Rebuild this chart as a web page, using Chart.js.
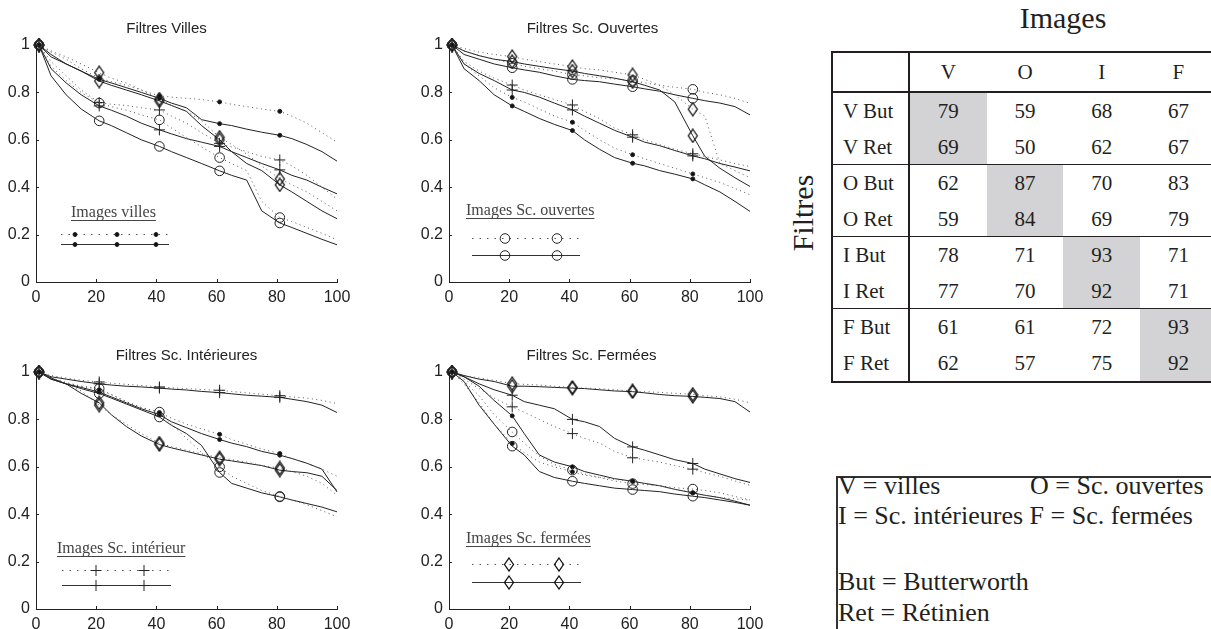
<!DOCTYPE html>
<html>
<head>
<meta charset="utf-8">
<script src="https://cdn.jsdelivr.net/npm/chart.js@4.4.1/dist/chart.umd.min.js"></script>
<style>
  html, body { margin: 0; padding: 0; background: #fff; }
  body {
    width: 1211px; height: 629px; position: relative; overflow: hidden;
    font-family: "Liberation Serif", "Times New Roman", serif; color: #231f20;
  }
  .panel { position: absolute; width: 370px; height: 315px; }
  .txt { position: absolute; white-space: nowrap; }
  .ln { position: absolute; background: #231f20; }
  .gray { position: absolute; background: #d3d3d5; }
</style>
</head>
<body>
<div class="panel" style="left:0;top:0"><canvas id="c0" width="370" height="315"></canvas></div>
<div class="panel" style="left:413px;top:0"><canvas id="c1" width="370" height="315"></canvas></div>
<div class="panel" style="left:0;top:327px"><canvas id="c2" width="370" height="315"></canvas></div>
<div class="panel" style="left:413px;top:327px"><canvas id="c3" width="370" height="315"></canvas></div>

<script>
/* ===== données ===== */
// abscisses communes (%), marqueurs tous les 20 à partir de 1
const xs = [1, 5, 10, 15, 21, 25, 30, 35, 41, 45, 50, 55, 61, 65, 70, 75, 81, 85, 90, 95, 100];
const markerXs = [1, 21, 41, 61, 81];
const xTickLabels = ['0', '20', '40', '60', '80', '100'];
const yTickLabels = ['0', '0.2', '0.4', '0.6', '0.8', '1'];

// Filtres Villes
const fvVillesBut    = [1,0.97,0.94,0.90,0.86,0.845,0.83,0.81,0.785,0.78,0.775,0.77,0.76,0.75,0.74,0.73,0.72,0.70,0.67,0.63,0.59];
const fvVillesRet    = [1,0.95,0.92,0.89,0.855,0.84,0.82,0.80,0.775,0.755,0.735,0.685,0.668,0.66,0.645,0.632,0.619,0.605,0.58,0.55,0.51];
const fvOuvertesBut  = [1,0.91,0.85,0.80,0.755,0.74,0.725,0.705,0.684,0.65,0.61,0.57,0.525,0.50,0.47,0.34,0.272,0.255,0.23,0.205,0.178];
const fvOuvertesRet  = [1,0.87,0.79,0.73,0.68,0.66,0.63,0.60,0.572,0.55,0.525,0.50,0.469,0.45,0.43,0.30,0.249,0.23,0.205,0.18,0.157];
const fvInterieurBut = [1,0.93,0.87,0.81,0.757,0.75,0.745,0.735,0.726,0.70,0.67,0.63,0.585,0.57,0.55,0.53,0.515,0.49,0.45,0.40,0.35];
const fvInterieurRet = [1,0.90,0.84,0.79,0.743,0.725,0.70,0.67,0.642,0.625,0.605,0.59,0.572,0.55,0.525,0.50,0.473,0.45,0.43,0.40,0.372];
const fvFermeesBut   = [1,0.975,0.95,0.92,0.883,0.86,0.84,0.81,0.772,0.745,0.72,0.68,0.611,0.58,0.54,0.49,0.435,0.41,0.38,0.34,0.30];
const fvFermeesRet   = [1,0.96,0.92,0.89,0.848,0.83,0.81,0.79,0.764,0.745,0.72,0.66,0.60,0.55,0.50,0.47,0.41,0.38,0.34,0.30,0.267];

// Filtres Sc. Ouvertes
const foVillesBut    = [1,0.92,0.87,0.82,0.779,0.76,0.73,0.70,0.674,0.64,0.60,0.565,0.537,0.52,0.50,0.48,0.456,0.44,0.42,0.395,0.368];
const foVillesRet    = [1,0.90,0.85,0.79,0.743,0.72,0.69,0.665,0.639,0.60,0.56,0.525,0.501,0.49,0.47,0.455,0.435,0.41,0.38,0.34,0.298];
const foOuvertesBut  = [1,0.975,0.955,0.94,0.923,0.91,0.90,0.89,0.875,0.87,0.862,0.856,0.85,0.84,0.83,0.822,0.813,0.80,0.79,0.775,0.754];
const foOuvertesRet  = [1,0.96,0.94,0.92,0.904,0.895,0.885,0.87,0.855,0.85,0.845,0.835,0.824,0.815,0.805,0.79,0.775,0.765,0.755,0.74,0.705];
const foInterieurBut = [1,0.93,0.89,0.86,0.831,0.81,0.79,0.77,0.747,0.72,0.69,0.65,0.621,0.60,0.58,0.56,0.541,0.53,0.515,0.50,0.487];
const foInterieurRet = [1,0.92,0.88,0.85,0.81,0.80,0.78,0.755,0.726,0.70,0.67,0.64,0.611,0.59,0.575,0.555,0.532,0.52,0.50,0.485,0.469];
const foFermeesBut   = [1,0.985,0.97,0.96,0.951,0.94,0.93,0.92,0.909,0.90,0.895,0.885,0.874,0.855,0.83,0.79,0.729,0.70,0.50,0.47,0.44];
const foFermeesRet   = [1,0.975,0.955,0.94,0.93,0.92,0.91,0.90,0.89,0.88,0.87,0.86,0.845,0.83,0.81,0.76,0.617,0.53,0.48,0.44,0.403];

// Filtres Sc. Intérieures
const fiVillesBut    = [1,0.975,0.955,0.94,0.925,0.905,0.875,0.85,0.829,0.805,0.78,0.76,0.737,0.715,0.695,0.675,0.656,0.635,0.615,0.59,0.56];
const fiVillesRet    = [1,0.97,0.95,0.935,0.915,0.895,0.87,0.845,0.82,0.79,0.765,0.74,0.715,0.70,0.685,0.665,0.649,0.635,0.615,0.59,0.494];
const fiOuvertesBut  = [1,0.975,0.955,0.94,0.93,0.905,0.875,0.85,0.831,0.78,0.72,0.66,0.60,0.56,0.53,0.50,0.475,0.46,0.44,0.415,0.389];
const fiOuvertesRet  = [1,0.97,0.95,0.93,0.909,0.89,0.865,0.84,0.81,0.775,0.74,0.69,0.576,0.53,0.51,0.49,0.473,0.46,0.445,0.43,0.41];
const fiInterieurBut = [1,0.985,0.975,0.965,0.958,0.953,0.948,0.943,0.937,0.933,0.93,0.926,0.923,0.918,0.912,0.906,0.90,0.895,0.89,0.88,0.867];
const fiInterieurRet = [1,0.98,0.97,0.96,0.95,0.945,0.94,0.937,0.932,0.928,0.924,0.918,0.913,0.908,0.902,0.898,0.893,0.885,0.875,0.86,0.829];
const fiFermeesBut   = [1,0.975,0.95,0.92,0.86,0.82,0.78,0.74,0.70,0.685,0.67,0.655,0.638,0.63,0.62,0.605,0.595,0.58,0.56,0.53,0.48];
const fiFermeesRet   = [1,0.975,0.95,0.91,0.87,0.82,0.77,0.73,0.694,0.68,0.665,0.65,0.632,0.625,0.615,0.605,0.586,0.58,0.575,0.56,0.50];

// Filtres Sc. Fermées
const ffVillesBut    = [1,0.95,0.87,0.78,0.698,0.66,0.62,0.60,0.579,0.565,0.555,0.547,0.539,0.53,0.52,0.505,0.49,0.48,0.47,0.465,0.459];
const ffVillesRet    = [1,0.98,0.94,0.88,0.815,0.74,0.65,0.62,0.60,0.58,0.565,0.55,0.539,0.53,0.52,0.505,0.49,0.48,0.47,0.455,0.438];
const ffOuvertesBut  = [1,0.96,0.90,0.82,0.747,0.70,0.645,0.61,0.586,0.57,0.555,0.54,0.529,0.525,0.52,0.512,0.506,0.50,0.49,0.475,0.46];
const ffOuvertesRet  = [1,0.96,0.86,0.78,0.687,0.65,0.58,0.555,0.539,0.53,0.52,0.51,0.504,0.50,0.495,0.485,0.476,0.47,0.46,0.45,0.438];
const ffInterieurBut = [1,0.97,0.93,0.89,0.853,0.83,0.80,0.77,0.74,0.72,0.70,0.665,0.638,0.63,0.62,0.605,0.59,0.575,0.56,0.54,0.522];
const ffInterieurRet = [1,0.98,0.95,0.925,0.902,0.875,0.86,0.845,0.80,0.79,0.77,0.72,0.684,0.67,0.65,0.63,0.614,0.59,0.57,0.55,0.534];
const ffFermeesBut   = [1,0.985,0.975,0.965,0.951,0.948,0.945,0.94,0.935,0.932,0.93,0.925,0.92,0.917,0.914,0.91,0.906,0.90,0.895,0.885,0.87];
const ffFermeesRet   = [1,0.985,0.97,0.96,0.94,0.94,0.938,0.935,0.932,0.93,0.925,0.92,0.917,0.912,0.905,0.90,0.897,0.893,0.888,0.875,0.831];

// tableau des taux
const tableCols = ['V', 'O', 'I', 'F'];
const tableRows = ['V But', 'V Ret', 'O But', 'O Ret', 'I But', 'I Ret', 'F But', 'F Ret'];
const tableValues = [
  [79, 59, 68, 67],
  [69, 50, 62, 67],
  [62, 87, 70, 83],
  [59, 84, 69, 79],
  [78, 71, 93, 71],
  [77, 70, 92, 71],
  [61, 61, 72, 93],
  [62, 57, 75, 92]
];

/* ===== marqueurs ===== */
// losange un peu plus haut que large, comme dans la figure
const diamond = (() => {
  const c = document.createElement('canvas');
  c.width = 12; c.height = 15;
  const g = c.getContext('2d');
  g.strokeStyle = '#111'; g.lineWidth = 1.3;
  g.beginPath();
  g.moveTo(6, 1); g.lineTo(10.5, 7.5); g.lineTo(6, 14); g.lineTo(1.5, 7.5);
  g.closePath(); g.stroke();
  return c;
})();

const markers = {
  villes:    { pointStyle: 'circle', radius: 2,   fill: '#111' },
  ouvertes:  { pointStyle: 'circle', radius: 4.8, fill: 'rgba(0,0,0,0)' },
  interieur: { pointStyle: 'cross',  radius: 5.5, fill: 'rgba(0,0,0,0)' },
  fermees:   { pointStyle: diamond,  radius: 6,   fill: 'rgba(0,0,0,0)' }
};

/* ===== panneaux ===== */
const panels = [
  { id: 'c0', title: 'Filtres Villes', titleDx: -20, label: 'Images villes', marker: 'villes',
    series: { villes: [fvVillesBut, fvVillesRet], ouvertes: [fvOuvertesBut, fvOuvertesRet],
              interieur: [fvInterieurBut, fvInterieurRet], fermees: [fvFermeesBut, fvFermeesRet] },
    leg: { textX: 35, textY: 172, dotY: 189, solidY: 199, x0: 25, x1: 133, marks: [39, 81, 120] } },
  { id: 'c1', title: 'Filtres Sc. Ouvertes', titleDx: -7, label: 'Images Sc. ouvertes', marker: 'ouvertes',
    series: { villes: [foVillesBut, foVillesRet], ouvertes: [foOuvertesBut, foOuvertesRet],
              interieur: [foInterieurBut, foInterieurRet], fermees: [foFermeesBut, foFermeesRet] },
    leg: { textX: 17, textY: 170, dotY: 193, solidY: 210, x0: 23, x1: 131, marks: [56, 108] } },
  { id: 'c2', title: 'Filtres Sc. Intérieures', titleDx: 0, label: 'Images Sc. intérieur', marker: 'interieur',
    series: { villes: [fiVillesBut, fiVillesRet], ouvertes: [fiOuvertesBut, fiOuvertesRet],
              interieur: [fiInterieurBut, fiInterieurRet], fermees: [fiFermeesBut, fiFermeesRet] },
    leg: { textX: 21, textY: 181, dotY: 198, solidY: 213, x0: 26, x1: 135, marks: [60, 108] } },
  { id: 'c3', title: 'Filtres Sc. Fermées', titleDx: -8, label: 'Images Sc. fermées', marker: 'fermees',
    series: { villes: [ffVillesBut, ffVillesRet], ouvertes: [ffOuvertesBut, ffOuvertesRet],
              interieur: [ffInterieurBut, ffInterieurRet], fermees: [ffFermeesBut, ffFermeesRet] },
    leg: { textX: 17, textY: 171, dotY: 192, solidY: 210, x0: 23, x1: 132, marks: [60, 110] } }
];

const SANS = '"Liberation Sans", Arial, Helvetica, sans-serif';
const SERIF = '"Liberation Serif", "Times New Roman", serif';

// titre, petits traits de graduation vers l'intérieur et légende encadrée
const insetPlugin = {
  id: 'inset',
  afterDraw(chart, args, opts) {
    const { ctx, chartArea: a, scales: { x, y } } = chart;
    ctx.save();

    ctx.strokeStyle = '#222';
    ctx.lineWidth = 1;
    x.ticks.forEach(t => {
      const px = Math.round(x.getPixelForValue(t.value)) + 0.5;
      ctx.beginPath(); ctx.moveTo(px, a.bottom); ctx.lineTo(px, a.bottom - 3); ctx.stroke();
    });
    y.ticks.forEach(t => {
      const py = Math.round(y.getPixelForValue(t.value)) + 0.5;
      ctx.beginPath(); ctx.moveTo(a.left, py); ctx.lineTo(a.left + 3, py); ctx.stroke();
    });

    ctx.fillStyle = '#222';
    ctx.font = '15px ' + SANS;
    ctx.textAlign = 'center';
    ctx.textBaseline = 'alphabetic';
    ctx.fillText(opts.title, (a.left + a.right) / 2 + opts.titleDx, a.top - 12);

    const L = opts.leg;
    ctx.font = '16px ' + SERIF;
    ctx.fillStyle = '#444';
    ctx.textAlign = 'left';
    const tx = a.left + L.textX, ty = a.top + L.textY;
    ctx.fillText(opts.label, tx, ty);
    const w = ctx.measureText(opts.label).width;
    ctx.fillRect(tx, ty + 3, w, 1);

    const m = markers[opts.marker];
    [[L.dotY, true], [L.solidY, false]].forEach(([dy, dotted]) => {
      const yy = a.top + dy + 0.5;
      ctx.strokeStyle = dotted ? '#555' : '#333';
      ctx.setLineDash(dotted ? [1.5, 6] : []);
      ctx.beginPath(); ctx.moveTo(a.left + L.x0, yy); ctx.lineTo(a.left + L.x1, yy); ctx.stroke();
      ctx.setLineDash([]);
      ctx.strokeStyle = '#222';
      ctx.fillStyle = m.fill;
      L.marks.forEach(mx => {
        Chart.helpers.drawPoint(ctx, { pointStyle: m.pointStyle, radius: m.radius, borderWidth: 1, rotation: 0 },
          a.left + mx, yy);
      });
    });
    ctx.restore();
  }
};

function buildDatasets(panel) {
  const out = [];
  Object.entries(panel.series).forEach(([cat, pair]) => {
    const m = markers[cat];
    pair.forEach((vals, k) => {
      const dotted = k === 0; // But en pointillés, Ret en trait plein
      out.push({
        label: cat + (dotted ? ' But' : ' Ret'),
        data: xs.map((x, i) => ({ x, y: vals[i] })),
        borderColor: dotted ? '#555' : '#222',
        borderWidth: 1,
        borderDash: dotted ? [1, 3.5] : [],
        pointStyle: m.pointStyle,
        pointRadius: c => markerXs.includes(xs[c.dataIndex]) ? m.radius : 0,
        pointBorderColor: '#222',
        pointBackgroundColor: m.fill,
        pointBorderWidth: 1,
        tension: 0,
        clip: false
      });
    });
  });
  return out;
}

panels.forEach(p => {
  new Chart(document.getElementById(p.id), {
    type: 'line',
    data: { datasets: buildDatasets(p) },
    plugins: [insetPlugin],
    options: {
      responsive: false,
      animation: false,
      events: [],
      layout: { padding: { top: 45, right: 33, left: 0, bottom: 0 } },
      plugins: {
        legend: { display: false },
        tooltip: { enabled: false },
        inset: { title: p.title, titleDx: p.titleDx, label: p.label, marker: p.marker, leg: p.leg }
      },
      scales: {
        x: {
          type: 'linear', min: 0, max: 100,
          afterFit: s => { s.height = 33; },
          ticks: {
            stepSize: 20, padding: 6, color: '#222', maxRotation: 0, autoSkip: false,
            font: { family: SANS, size: 16 },
            callback: (v, i) => xTickLabels[i]
          },
          grid: { drawOnChartArea: false, drawTicks: false, color: '#222' },
          border: { color: '#222', width: 1 }
        },
        y: {
          min: 0, max: 1,
          afterFit: s => { s.width = 36; },
          ticks: {
            stepSize: 0.2, padding: 6, color: '#222',
            font: { family: SANS, size: 16 },
            callback: (v, i) => yTickLabels[i]
          },
          grid: { drawOnChartArea: false, drawTicks: false, color: '#222' },
          border: { color: '#222', width: 1 }
        }
      }
    }
  });
});

/* ===== tableau et encart de droite ===== */
function addDiv(cls, css, text) {
  const d = document.createElement('div');
  d.className = cls;
  Object.assign(d.style, css);
  if (text !== undefined) d.textContent = text;
  document.body.appendChild(d);
  return d;
}

function buildTable() {
  const colX0 = 910, colW = 76.7, rowY0 = 93, rowH = 36;

  addDiv('txt', { left: '963px', top: '3px', width: '200px', textAlign: 'center',
    fontSize: '30px', lineHeight: '30px' }, 'Images');
  addDiv('txt', { left: '743px', top: '198px', width: '120px', textAlign: 'center',
    fontSize: '30px', lineHeight: '30px', transform: 'rotate(-90deg)' }, 'Filtres');

  // cases grisées sur la diagonale
  tableCols.forEach((c, j) => {
    addDiv('gray', { left: (colX0 + colW * j) + 'px', top: (rowY0 + rowH * 2 * j) + 'px',
      width: colW + 'px', height: (rowH * 2) + 'px' });
  });

  tableCols.forEach((c, j) => {
    addDiv('txt', { left: (colX0 + colW * j) + 'px', top: '53px', width: colW + 'px', textAlign: 'center',
      fontSize: '21px', lineHeight: '38px' }, c);
  });
  tableRows.forEach((r, i) => {
    const top = rowY0 + rowH * i;
    addDiv('txt', { left: '843px', top: top + 'px', fontSize: '21px', lineHeight: rowH + 'px' }, r);
    tableValues[i].forEach((v, j) => {
      addDiv('txt', { left: (colX0 + colW * j) + 'px', top: top + 'px', width: colW + 'px',
        textAlign: 'center', fontSize: '21px', lineHeight: rowH + 'px' }, String(v));
    });
  });

  // traits
  addDiv('ln', { left: '831px', top: '51px', width: '380px', height: '2px' });
  addDiv('ln', { left: '831px', top: '91px', width: '380px', height: '2px' });
  [1, 2, 3].forEach(g => {
    addDiv('ln', { left: '831px', top: (rowY0 + rowH * 2 * g - 1) + 'px', width: '380px', height: '1px' });
  });
  addDiv('ln', { left: '831px', top: '381px', width: '380px', height: '2px' });
  addDiv('ln', { left: '831px', top: '51px', width: '2px', height: '332px' });
  addDiv('ln', { left: '908px', top: '51px', width: '2px', height: '332px' });
}

function buildKey() {
  addDiv('ln', { left: '836px', top: '476px', width: '375px', height: '1.5px', background: '#333' });
  addDiv('ln', { left: '836px', top: '476px', width: '1.5px', height: '153px', background: '#333' });
  const st = { fontSize: '26px', lineHeight: '26px' };
  addDiv('txt', Object.assign({ left: '838px', top: '473px' }, st), 'V = villes');
  addDiv('txt', Object.assign({ left: '1030px', top: '473px' }, st), 'O = Sc. ouvertes');
  addDiv('txt', Object.assign({ left: '838px', top: '503px' }, st), 'I = Sc. intérieures F = Sc. fermées');
  addDiv('txt', Object.assign({ left: '838px', top: '569px' }, st), 'But = Butterworth');
  addDiv('txt', Object.assign({ left: '838px', top: '600px' }, st), 'Ret = Rétinien');
}

buildTable();
buildKey();
</script>
</body>
</html>
